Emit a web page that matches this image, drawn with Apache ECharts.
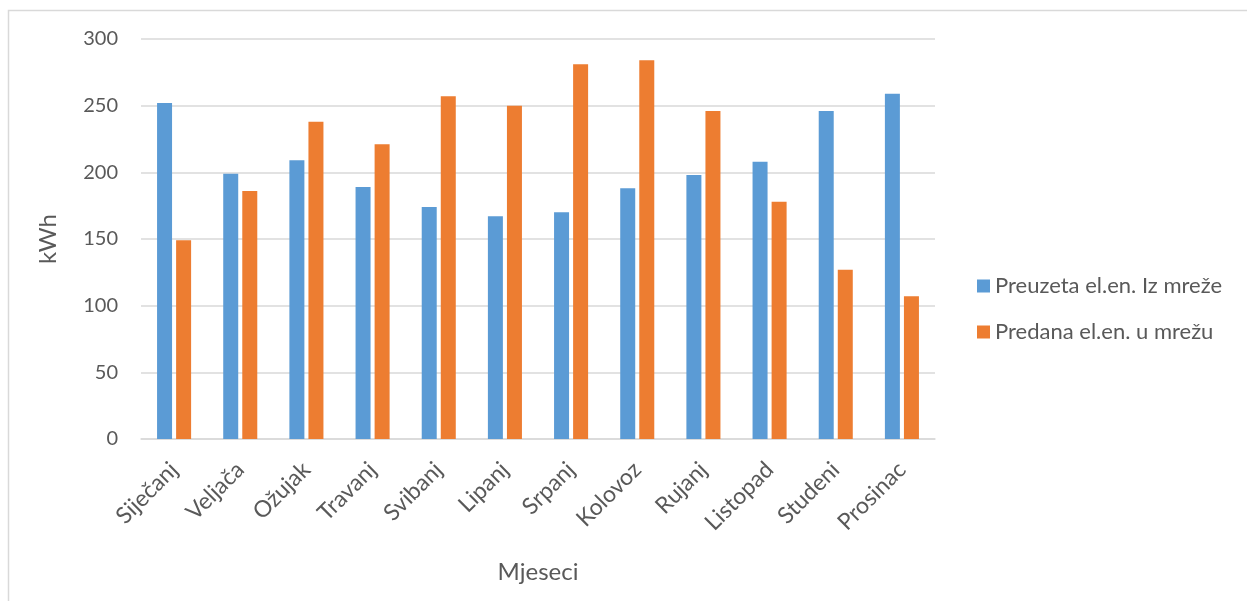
<!DOCTYPE html>
<html>
<head>
<meta charset="utf-8">
<script src="https://cdn.jsdelivr.net/npm/echarts@6/dist/echarts.min.js"></script>
<style>
html,body{margin:0;padding:0;background:#fff;}
#c{width:1247px;height:601px;}
</style>
</head>
<body>
<div id="c"></div>
<script>
const categories = ['Siječanj','Veljača','Ožujak','Travanj','Svibanj','Lipanj','Srpanj','Kolovoz','Rujanj','Listopad','Studeni','Prosinac'];
const preuzeta = [252,199,209,189,174,167,170,188,198,208,246,259];
const predana = [149,186,238,221,257,250,281,284,246,178,127,107];
const seriesNames = ['Preuzeta el.en. Iz mreže','Predana el.en. u mrežu'];
const yTicks = [0,50,100,150,200,250,300];

const font = 'Lato, "Open Sans", sans-serif';
const chart = echarts.init(document.getElementById('c'), null, {renderer:'canvas'});
chart.setOption({
  animation:false,
  backgroundColor:'#fff',
  textStyle:{fontFamily:font},
  graphic:[
    {type:'polyline', shape:{points:[[8.5,601],[8.5,10.5],[1247,10.5]]}, style:{stroke:'#d9d9d9', lineWidth:1.5, fill:null}, silent:true}
  ],
  grid:{left:141, right:312, top:39, bottom:162, containLabel:false},
  legend:{
    orient:'vertical', left:972, top:270,
    itemWidth:13, itemHeight:13, itemGap:24,
    icon:'rect',
    textStyle:{color:'#595959', fontSize:22, fontFamily:font},
    data:seriesNames
  },
  xAxis:{
    type:'category', data:categories,
    axisLine:{lineStyle:{color:'#d9d9d9', width:1.5}},
    axisTick:{show:false},
    axisLabel:{rotate:45, color:'#595959', fontSize:23, margin:27, interval:0, fontFamily:font, padding:[0,0,0,0]},
    name:'Mjeseci', nameLocation:'middle', nameGap:121,
    nameTextStyle:{color:'#595959', fontSize:24, fontFamily:font}
  },
  yAxis:{
    type:'value', min:yTicks[0], max:yTicks[yTicks.length-1], interval:50,
    axisLine:{show:false}, axisTick:{show:false},
    splitLine:{lineStyle:{color:'#d9d9d9', width:1.5}},
    axisLabel:{color:'#595959', fontSize:20, margin:23, fontFamily:font},
    name:'kWh', nameLocation:'middle', nameGap:81, nameRotate:90,
    nameTextStyle:{color:'#595959', fontSize:24, fontFamily:font}
  },
  series:[
    {name:seriesNames[0], type:'bar', data:preuzeta, barWidth:15, barGap:'27%', itemStyle:{color:'#5B9BD5'}},
    {name:seriesNames[1], type:'bar', data:predana, barWidth:15, barGap:'27%', itemStyle:{color:'#ED7D31'}}
  ]
});
</script>
</body>
</html>
